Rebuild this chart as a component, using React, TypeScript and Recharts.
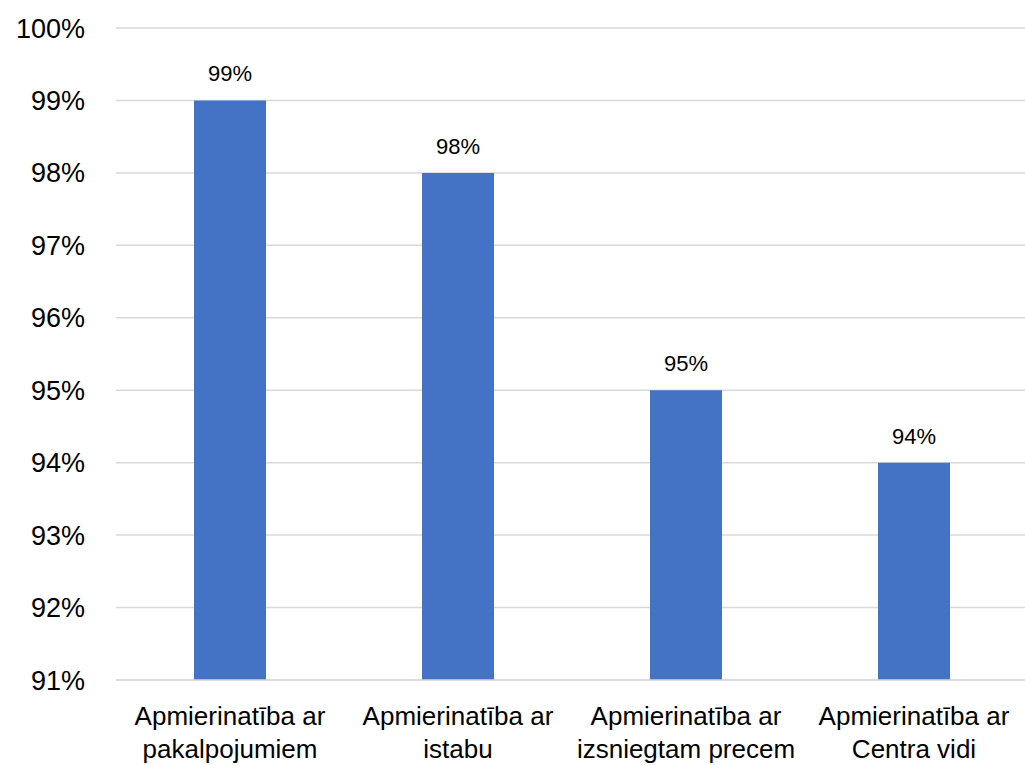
import React from "react";
import { BarChart, Bar, XAxis, YAxis, CartesianGrid, LabelList } from "recharts";

const categories = [
  "Apmierinatība ar pakalpojumiem",
  "Apmierinatība ar istabu",
  "Apmierinatība ar izsniegtam precem",
  "Apmierinatība ar Centra vidi",
];
const values = [99, 98, 95, 94];
const yTicks = [91, 92, 93, 94, 95, 96, 97, 98, 99, 100];

const data = categories.map((name, i) => ({ name, value: values[i] }));

const FONT = "'Liberation Sans', Arial, sans-serif";

const XTick = (props: any) => {
  const { x, y, payload } = props;
  const s: string = payload.value;
  const idx = s.indexOf(" ar ");
  const l1 = idx >= 0 ? s.slice(0, idx + 3) : s;
  const l2 = idx >= 0 ? s.slice(idx + 4) : "";
  return (
    <g>
      <text x={x} y={y + 45} textAnchor="middle" fontSize={26} fill="#000" fontFamily={FONT}>
        {l1}
      </text>
      <text x={x} y={y + 78} textAnchor="middle" fontSize={26} fill="#000" fontFamily={FONT}>
        {l2}
      </text>
    </g>
  );
};

export default function App() {
  return (
    <div style={{ position: "absolute", left: 0, top: 0, width: 1025, height: 765, overflow: "hidden", background: "#fff" }}>
      <BarChart
        width={1030}
        height={765}
        data={data}
        margin={{ top: 28, right: 2, bottom: 0, left: 0 }}
      >
        <CartesianGrid vertical={false} stroke="#d9d9d9" strokeWidth={1.5} />
        <XAxis
          dataKey="name"
          height={85}
          tick={<XTick />}
          tickLine={false}
          tickSize={0}
          tickMargin={0}
          interval={0}
          axisLine={{ stroke: "#d9d9d9", strokeWidth: 1.5 }}
        />
        <YAxis
          width={116}
          domain={[91, 100]}
          ticks={yTicks}
          interval={0}
          allowDataOverflow
          axisLine={false}
          tickLine={false}
          tickSize={0}
          tickMargin={31}
          tickFormatter={(v: number) => `${v}%`}
          tick={{ fontSize: 27, fill: "#000", fontFamily: FONT }}
        />
        <Bar dataKey="value" fill="#4472c4" barSize={72} isAnimationActive={false}>
          <LabelList
            dataKey="value"
            position="top"
            offset={19}
            formatter={(v: number) => `${v}%`}
            style={{ fontSize: 22, fill: "#000", fontFamily: FONT }}
          />
        </Bar>
      </BarChart>
    </div>
  );
}
